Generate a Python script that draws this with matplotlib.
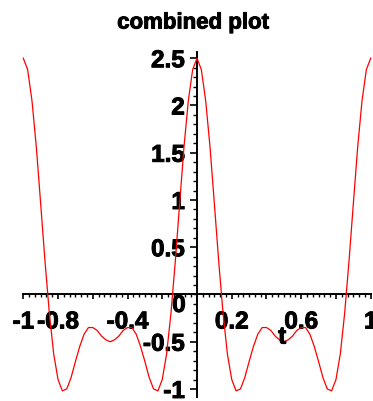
import numpy as np
import matplotlib
matplotlib.use('Agg')
import matplotlib.pyplot as plt
import matplotlib.patheffects as pe
from matplotlib.ticker import MultipleLocator, FixedLocator, FixedFormatter

# sample points (step 0.025)
t = np.linspace(-1, 1, 81)
y_neg = [2.50, 2.38, 2.05, 1.56, 0.96, 0.35, -0.20, -0.63, -0.90, -1.02,
         -1.00, -0.88, -0.71, -0.55, -0.42, -0.35, -0.35, -0.38, -0.44, -0.48,
         -0.50, -0.48, -0.44, -0.38, -0.35, -0.35, -0.42, -0.55, -0.71, -0.88,
         -1.00, -1.02, -0.90, -0.63, -0.20, 0.35, 0.96, 1.56, 2.05, 2.38]
y_pos = [2.50, 2.38, 2.05, 1.56, 0.96, 0.35, -0.20, -0.63, -0.90, -1.02,
         -1.00, -0.88, -0.71, -0.55, -0.42, -0.35, -0.35, -0.38, -0.44, -0.48,
         -0.50, -0.48, -0.44, -0.38, -0.35, -0.35, -0.42, -0.55, -0.71, -0.88,
         -1.00, -1.02, -0.90, -0.63, -0.20, 0.35, 0.96, 1.56, 2.05, 2.38, 2.50]
y = np.array(y_neg + y_pos)

xticks = [-1, -0.8, -0.6, -0.4, -0.2, 0, 0.2, 0.4, 0.6, 0.8, 1]
xlabels = ['-1', '-0.8', '', '-0.4', '', '', '0.2', '', '0.6', '', '1']
yticks = [-1, -0.5, 0.5, 1, 1.5, 2, 2.5]
ylabels = ['-1', '-0.5', '0.5', '1', '1.5', '2', '2.5']

plt.rcParams['font.family'] = ['Liberation Sans', 'DejaVu Sans']
plt.rcParams['font.weight'] = 'bold'

heavy = [pe.withStroke(linewidth=0.7, foreground='black')]

fig = plt.figure(figsize=(3.73, 4.01), dpi=100)
ax = fig.add_axes([23.3/373, 1 - 397/401, (370.7 - 23.3)/373, 345/401])

ax.plot(t, y, color='#ff0000', lw=0.9, clip_on=False, zorder=3)

ax.set_xlim(-1, 1)
ax.set_ylim(-1.085, 2.566)

for s in ['top', 'right']:
    ax.spines[s].set_visible(False)
ax.spines['left'].set_position(('data', 0))
ax.spines['bottom'].set_position(('data', 0))
ax.spines['left'].set_linewidth(1.4)
ax.spines['bottom'].set_linewidth(1.4)

ax.xaxis.set_major_locator(FixedLocator(xticks))
ax.xaxis.set_major_formatter(FixedFormatter(xlabels))
ax.xaxis.set_minor_locator(MultipleLocator(0.2/6))
ax.yaxis.set_major_locator(FixedLocator(yticks))
ax.yaxis.set_major_formatter(FixedFormatter(ylabels))
ax.yaxis.set_minor_locator(MultipleLocator(0.1))

ax.tick_params(axis='x', which='major', direction='out', length=3.5, width=1.2,
               pad=8, labelsize=17.5)
ax.tick_params(axis='x', which='minor', direction='out', length=2.2, width=1.0)
ax.tick_params(axis='y', which='major', direction='out', length=4.8, width=1.2,
               pad=4, labelsize=17.5)
ax.tick_params(axis='y', which='minor', direction='out', length=3.0, width=1.0)

for lab in ax.get_xticklabels() + ax.get_yticklabels():
    lab.set_path_effects(heavy)

ax.text(-0.104, -0.116, '0', fontsize=17.5, fontweight='bold', ha='center',
        va='center', path_effects=heavy)
ax.text(0.49, -0.45, 't', fontsize=17.5, fontweight='bold', ha='center',
        va='center', path_effects=heavy)

fig.text(193/373, 1 - 23/401, 'combined plot', fontsize=16, fontweight='bold',
         ha='center', va='center', path_effects=heavy)

fig.savefig('out.png', dpi=100)
